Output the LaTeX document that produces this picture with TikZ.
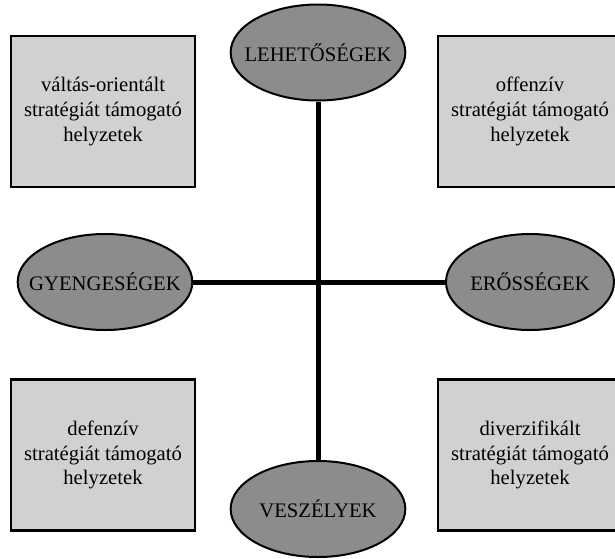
\documentclass[tikz,border=0pt]{standalone}
\usepackage{fontspec}
\setmainfont{Liberation Serif}
\usetikzlibrary{shapes.geometric}

\tikzset{
  helyzet/.style={rectangle,draw,line width=1.8pt,fill=black!18,align=center,
    minimum width=138pt,minimum height=113pt,inner sep=0pt},
  tenyezo/.style={ellipse,draw,line width=1.5pt,fill=black!45,
    minimum width=131pt,minimum height=72pt,inner sep=0pt},
}
\newcommand{\felirat}[1]{\makebox[0pt]{#1}}

\begin{document}
\begin{tikzpicture}[x=0.75pt,y=-0.75pt,font=\fontsize{15.5}{18.5}\selectfont]
            \useasboundingbox (0,0) rectangle (615,558);

            \node (valt) at (103,111.5) [helyzet] {váltás-orientált\\stratégiát támogató\\helyzetek};
            \node (off) at (530,111.5) [helyzet] {offenzív\\stratégiát támogató\\helyzetek};
            \node (def) at (103,455) [helyzet] {defenzív\\stratégiát támogató\\helyzetek};
            \node (div) at (530,455) [helyzet] {diverzifikált\\stratégiát támogató\\helyzetek};

            \node (lehet) at (318,52.5) [tenyezo] {\felirat{LEHETŐSÉGEK}};
            \node (gyenge) at (105,282) [tenyezo] {\felirat{GYENGESÉGEK}};
            \node (eros) at (530,282) [tenyezo,minimum width=126pt] {\felirat{ERŐSSÉGEK}};
            \node (veszely) at (318,509) [tenyezo] {\felirat{VESZÉLYEK}};

            \draw[line width=3.75pt] (lehet) -- (veszely) (gyenge) -- (eros);

        \end{tikzpicture}
\end{document}
